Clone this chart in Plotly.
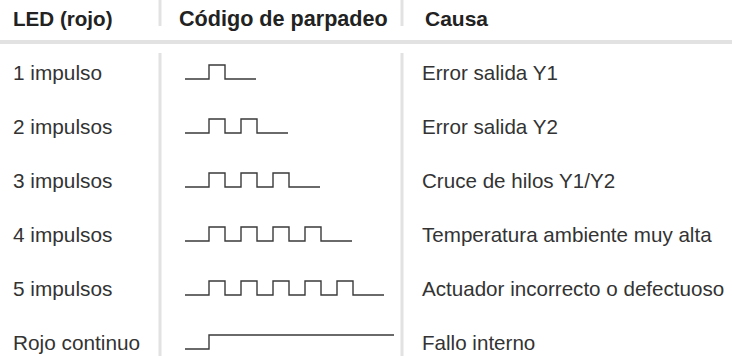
import plotly.graph_objects as go

# ---- data ----
headers = ["LED (rojo)", "Código de parpadeo", "Causa"]
led_labels = ["1 impulso", "2 impulsos", "3 impulsos", "4 impulsos", "5 impulsos", "Rojo continuo"]
pulse_counts = [1, 2, 3, 4, 5, None]  # None = continuous
causes = ["Error salida Y1", "Error salida Y2", "Cruce de hilos Y1/Y2",
          "Temperatura ambiente muy alta", "Actuador incorrecto o defectuoso", "Fallo interno"]

# ---- layout constants (pixels) ----
W, H = 732, 356
row_y0, row_step = 72, 54
amp = 7
x_start, lead, hi_w, lo_w, trail = 185, 24, 16, 16, 31
cont_end = 394
sep_color = "#e2e2e2"
font = "Liberation Sans, Arial, sans-serif"

fig = go.Figure()

for i, n in enumerate(pulse_counts):
    yc = row_y0 + i * row_step
    low, high = yc + amp, yc - amp
    x = x_start + lead
    xs, ys = [x_start, x], [low, low]
    if n is None:
        xs += [x, cont_end]
        ys += [high, high]
    else:
        for k in range(n):
            xs += [x, x + hi_w, x + hi_w]
            ys += [high, high, low]
            x += hi_w
            if k < n - 1:
                xs.append(x + lo_w)
                ys.append(low)
                x += lo_w
        xs.append(x + trail)
        ys.append(low)
    fig.add_trace(go.Scatter(x=xs, y=ys, mode="lines",
                             line=dict(color="#3a3a3a", width=1.4),
                             hoverinfo="skip", showlegend=False))

shapes = []
for sx in (160, 402):
    shapes.append(dict(type="line", x0=sx, x1=sx, y0=0, y1=26,
                       line=dict(color=sep_color, width=3)))
    shapes.append(dict(type="line", x0=sx, x1=sx, y0=53, y1=H,
                       line=dict(color=sep_color, width=3)))
shapes.append(dict(type="line", x0=0, x1=W, y0=42, y1=42,
                   line=dict(color=sep_color, width=4)))

ann = []
for hx, txt, fs in zip((11, 177, 423), headers, (20.6, 21.6, 21)):
    ann.append(dict(x=hx, y=18, text="<b>" + txt + "</b>", showarrow=False,
                    xanchor="left", yanchor="middle",
                    font=dict(family=font, size=fs, color="#222222")))
for i, (a, c) in enumerate(zip(led_labels, causes)):
    yc = row_y0 + i * row_step
    ann.append(dict(x=11, y=yc, text=a, showarrow=False, xanchor="left", yanchor="middle",
                    font=dict(family=font, size=20.8, color="#333333")))
    ann.append(dict(x=420, y=yc, text=c, showarrow=False, xanchor="left", yanchor="middle",
                    font=dict(family=font, size=20.6, color="#333333")))

fig.update_layout(width=W, height=H, margin=dict(l=0, r=0, t=0, b=0),
                  paper_bgcolor="white", plot_bgcolor="white",
                  xaxis=dict(range=[0, W], visible=False, fixedrange=True),
                  yaxis=dict(range=[H, 0], visible=False, fixedrange=True),
                  shapes=shapes, annotations=ann)

fig.write_html("out.html", config={"displayModeBar": False},
               post_script="document.body.style.margin='0';document.body.style.overflow='hidden';")
